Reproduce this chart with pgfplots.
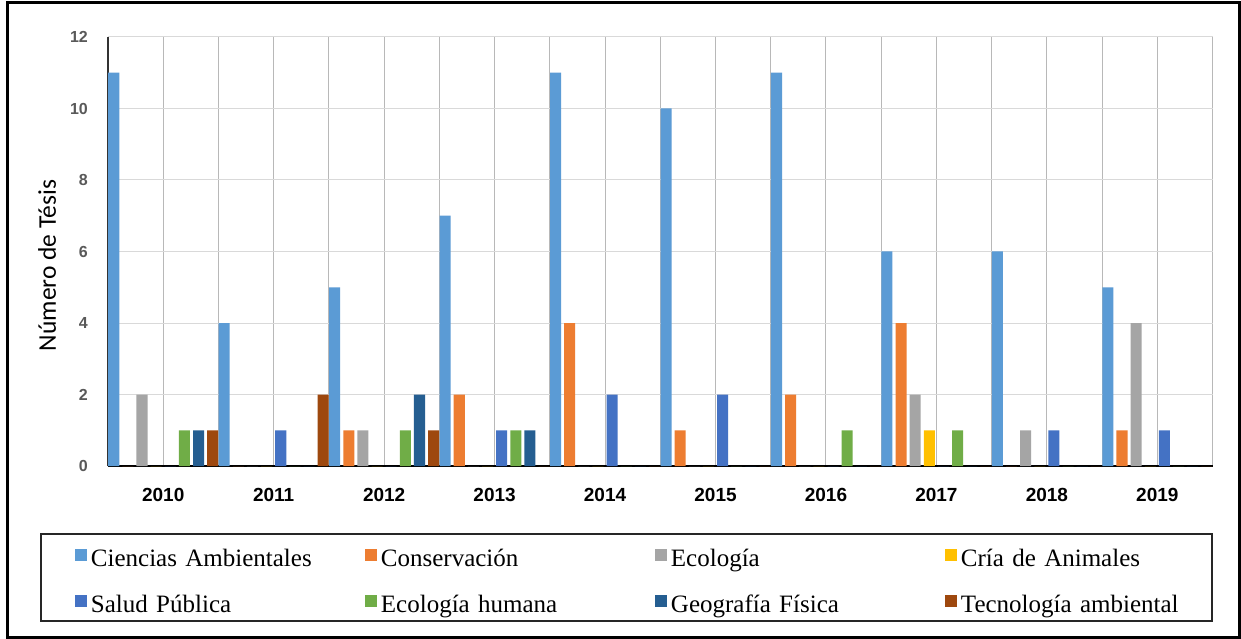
\documentclass[border=0pt]{standalone}
\usepackage{fontspec}
\usepackage{pgfplots}
\usepackage{pgfplotstable}
\pgfplotsset{compat=1.18}
\setmainfont{Liberation Serif}
\newfontfamily\arialfont{Liberation Sans}
\newfontfamily\calibrifont{Carlito}

\definecolor{cCA}{HTML}{5B9BD5}
\definecolor{cCons}{HTML}{ED7D31}
\definecolor{cEco}{HTML}{A5A5A5}
\definecolor{cCria}{HTML}{FFC000}
\definecolor{cSalud}{HTML}{4472C4}
\definecolor{cEcoH}{HTML}{70AD47}
\definecolor{cGeo}{HTML}{255E91}
\definecolor{cTec}{HTML}{9E480E}

\pgfplotstableread{
idx CA Cons Eco Cria Salud EcoH Geo Tec
0 11 0 2 0 0 1 1 1
1 4 0 0 0 1 0 0 2
2 5 1 1 0 0 1 2 1
3 7 2 0 0 1 1 1 0
4 11 4 0 0 2 0 0 0
5 10 1 0 0 2 0 0 0
6 11 2 0 0 0 1 0 0
7 6 4 2 1 0 1 0 0
8 6 0 1 0 1 0 0 0
9 5 1 4 0 1 0 0 0
}\data

\begin{document}
\begin{tikzpicture}
\useasboundingbox (-108bp,-173bp) rectangle (1133bp,466bp);
\fill[white] (-108bp,-173bp) rectangle (1133bp,466bp);
\begin{axis}[
  at={(0bp,0bp)}, anchor=south west,
  scale only axis,
  width=1104.5bp, height=429bp,
  xmin=-0.5, xmax=9.5, ymin=0, ymax=12,
  xtick={0,...,9},
  xticklabels={2010,2011,2012,2013,2014,2015,2016,2017,2018,2019},
  minor xtick={-0.5,0.5,...,9.5},
  ytick={0,2,...,12},
  xmajorgrids, xminorgrids, ymajorgrids,
  major x grid style={draw=black!28, line width=1bp},
  minor x grid style={draw=black!28, line width=1bp},
  major y grid style={draw=black!15, line width=1bp},
  major tick length=0pt, minor tick length=0pt,
  axis x line*=bottom, axis y line*=left,
  x axis line style={-, draw=black, line width=1.6bp},
  y axis line style={-, draw=black!80, line width=1.4bp},
  /pgf/number format/assume math mode=true,
  xticklabel style={font=\arialfont\bfseries\fontsize{19bp}{19bp}\selectfont, anchor=center, yshift=-28.5bp, inner sep=0pt},
  yticklabel style={font=\arialfont\bfseries\fontsize{16bp}{16bp}\selectfont, text=black!65, anchor=east, xshift=-20bp, inner sep=0pt},
  ylabel={Número de Tésis},
  ylabel style={font=\calibrifont\fontsize{25.5bp}{25.5bp}\selectfont, at={(axis description cs:-0.0552,0.4674)}, anchor=center, inner sep=0pt},
  legend columns=4,
  legend cell align=left,
  legend image code/.code={\fill[#1,draw=none] (0bp,0bp) rectangle (12bp,12bp);},
  legend style={draw=none, fill=none, inner sep=0pt, outer sep=0pt,
    at={(-0.0299,-0.1946)}, anchor=north west,
    column sep=0pt, row sep=22bp,
    /tikz/every odd column/.append style={column sep=2bp},
    nodes={text width=272bp, align=left, inner xsep=2bp, inner ysep=0pt,
      text height=17bp, text depth=6bp,
      font=\fontsize{25bp}{30bp}\selectfont}},
]
\addplot[ybar, fill=cCA,    draw=none, bar width=0.1, bar shift=-0.448] table[x=idx, y=CA]    {\data};
\addplot[ybar, fill=cCons,  draw=none, bar width=0.1, bar shift=-0.320] table[x=idx, y=Cons]  {\data};
\addplot[ybar, fill=cEco,   draw=none, bar width=0.1, bar shift=-0.192] table[x=idx, y=Eco]   {\data};
\addplot[ybar, fill=cCria,  draw=none, bar width=0.1, bar shift=-0.064] table[x=idx, y=Cria]  {\data};
\addplot[ybar, fill=cSalud, draw=none, bar width=0.1, bar shift=0.064]  table[x=idx, y=Salud] {\data};
\addplot[ybar, fill=cEcoH,  draw=none, bar width=0.1, bar shift=0.192]  table[x=idx, y=EcoH]  {\data};
\addplot[ybar, fill=cGeo,   draw=none, bar width=0.1, bar shift=0.320]  table[x=idx, y=Geo]   {\data};
\addplot[ybar, fill=cTec,   draw=none, bar width=0.1, bar shift=0.448]  table[x=idx, y=Tec]   {\data};
\legend{Ciencias Ambientales, Conservación, Ecología, Cría de Animales, Salud Pública, Ecología humana, Geografía Física, Tecnología ambiental}
\end{axis}
\draw[black!85, line width=1.5bp] (-67bp,-68bp) rectangle (1104bp,-155bp);
\draw[black, line width=3bp] (-100.5bp,463.5bp) rectangle (1131bp,-171bp);
\end{tikzpicture}
\end{document}
